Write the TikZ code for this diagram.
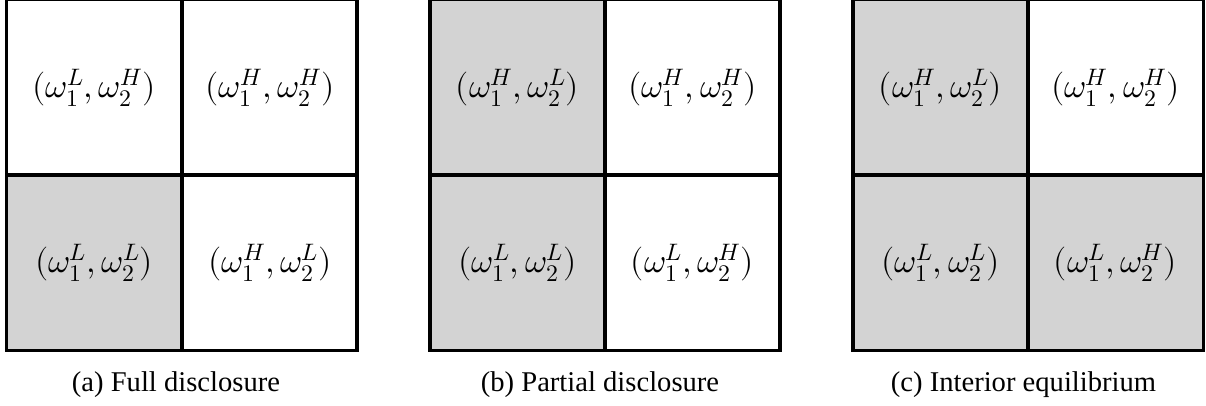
\documentclass[tikz,border=0pt]{standalone}
\usepackage{fontspec}
\usepackage{unicode-math}
\setmainfont{Liberation Serif}
\setmathfont{Latin Modern Math}
\newfontfamily\capfont{Liberation Serif}
\definecolor{shade}{RGB}{211,211,211}
\begin{document}
\begin{tikzpicture}[x=1pt,y=-1pt,
  gridline/.style={line width=3.3pt,black},
  lbl/.style={font=\fontsize{34}{40}\selectfont,inner sep=0pt},
  captext/.style={font=\capfont\fontsize{28.6}{34}\selectfont,anchor=base,inner sep=0pt},
  shaded/.style={fill=shade}]
\useasboundingbox (0,0) rectangle (1206,406);
% panel (a)
\fill[shaded] (6.5,175) rectangle (182,350.7);
\draw[gridline] (6.5,-0.5) rectangle (357,350.7);
\draw[gridline] (182,-0.5) -- (182,350.7);
\draw[gridline] (6.5,175) -- (357,175);
\node[lbl] (a11) at (94,88) {$(\omega_1^L,\omega_2^H)$};
\node[lbl] (a12) at (270,88) {$(\omega_1^H,\omega_2^H)$};
\node[lbl] (a21) at (94,263) {$(\omega_1^L,\omega_2^L)$};
\node[lbl] (a22) at (270,263) {$(\omega_1^H,\omega_2^L)$};
\node[captext] (capa) at (176,391) {(a) Full disclosure};
% panel (b)
\fill[shaded] (430,-0.5) rectangle (605,350.7);
\draw[gridline] (430,-0.5) rectangle (780,350.7);
\draw[gridline] (605,-0.5) -- (605,350.7);
\draw[gridline] (430,175) -- (780,175);
\node[lbl] (b11) at (517.5,88) {$(\omega_1^H,\omega_2^L)$};
\node[lbl] (b12) at (692.5,88) {$(\omega_1^H,\omega_2^H)$};
\node[lbl] (b21) at (517.5,263) {$(\omega_1^L,\omega_2^L)$};
\node[lbl] (b22) at (692.5,263) {$(\omega_1^L,\omega_2^H)$};
\node[captext] (capb) at (600,391) {(b) Partial disclosure};
% panel (c)
\fill[shaded] (853,-0.5) rectangle (1028,350.7);
\fill[shaded] (1028,175) rectangle (1203.5,350.7);
\draw[gridline] (853,-0.5) rectangle (1203.5,350.7);
\draw[gridline] (1028,-0.5) -- (1028,350.7);
\draw[gridline] (853,175) -- (1203.5,175);
\node[lbl] (c11) at (940.5,88) {$(\omega_1^H,\omega_2^L)$};
\node[lbl] (c12) at (1115.5,88) {$(\omega_1^H,\omega_2^H)$};
\node[lbl] (c21) at (940.5,263) {$(\omega_1^L,\omega_2^L)$};
\node[lbl] (c22) at (1115.5,263) {$(\omega_1^L,\omega_2^H)$};
\node[captext] (capc) at (1023.5,391) {(c) Interior equilibrium};
\end{tikzpicture}
\end{document}
